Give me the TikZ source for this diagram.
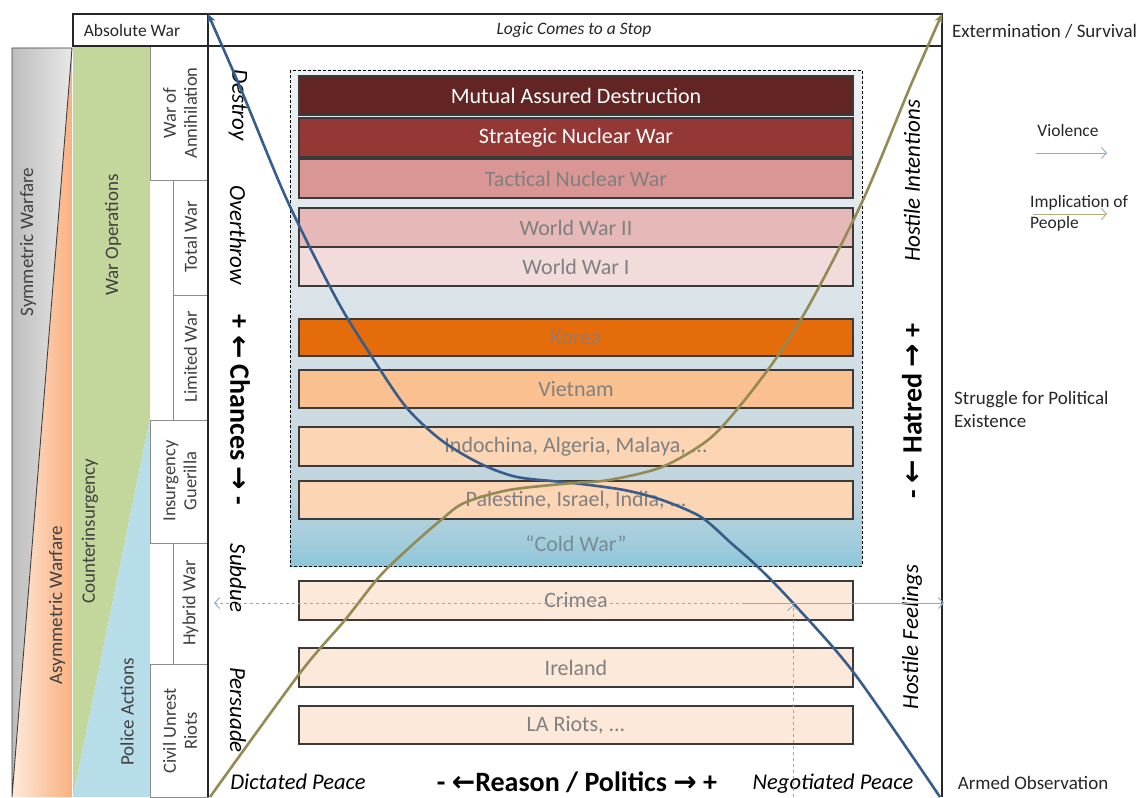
\documentclass[tikz,border=0pt]{standalone}
\usepackage{fontspec}
\setmainfont{Carlito}
\newfontfamily\arrowfont{DejaVu Sans}
\usetikzlibrary{arrows.meta}
\definecolor{cMAD}{HTML}{632523}
\definecolor{cStrat}{HTML}{953735}
\definecolor{cTact}{HTML}{D99694}
\definecolor{cWWII}{HTML}{E6B9B8}
\definecolor{cWWI}{HTML}{F2DCDB}
\definecolor{cKorea}{HTML}{E46C0A}
\definecolor{cViet}{HTML}{FAC090}
\definecolor{cMid}{HTML}{FCD5B5}
\definecolor{cLow}{HTML}{FDE9D9}
\definecolor{boxline}{HTML}{3A3A3A}
\definecolor{boxtext}{HTML}{808080}
\definecolor{txtdark}{HTML}{262626}
\definecolor{txtgray}{HTML}{404040}
\definecolor{cellline}{HTML}{8C8C8C}
\definecolor{bandgreen}{HTML}{C3D69B}
\definecolor{bandblue}{HTML}{B7DDE8}
\definecolor{orangeL}{HTML}{FDEADA}
\definecolor{orangeR}{HTML}{F9B080}
\definecolor{grayL}{HTML}{BDBDBD}
\definecolor{grayR}{HTML}{E8E8E8}
\definecolor{contA}{HTML}{8EC6DA}
\definecolor{contB}{HTML}{A6CDDC}
\definecolor{contC}{HTML}{BDD3DD}
\definecolor{contD}{HTML}{C9D8E0}
\definecolor{contE}{HTML}{D6E1E7}
\definecolor{contF}{HTML}{DFE6EA}
\definecolor{contG}{HTML}{EEF1F3}
\definecolor{violence}{HTML}{385D8A}
\definecolor{people}{HTML}{948A54}
\definecolor{violenceL}{HTML}{8EAACB}
\definecolor{peopleL}{HTML}{B3AB7D}
\pgfdeclareverticalshading{contshade}{100bp}{color(0bp)=(contA); color(25bp)=(contA); color(28bp)=(contB); color(32bp)=(contC); color(38bp)=(contD); color(48bp)=(contE); color(56bp)=(contF); color(75bp)=(contG); color(100bp)=(contG)}
\begin{document}
\begin{tikzpicture}[x=1pt,y=-1pt,
  warbox/.style={draw=boxline, line width=1.1pt, minimum width=554pt, minimum height=39pt, inner sep=0pt, text=boxtext, font=\fontsize{22}{26}\selectfont},
  collbl/.style={inner sep=0pt, text=txtgray, font=\fontsize{19}{22}\selectfont, align=center},
  celllbl/.style={inner sep=0pt, text=txtgray, font=\fontsize{18.5}{21}\selectfont, align=center, rotate=90},
  verb/.style={inner sep=0pt, text=black, font=\fontsize{23}{27}\selectfont\itshape, rotate=-90},
  side/.style={inner sep=0pt, text=black, font=\fontsize{23}{27}\selectfont\itshape, rotate=90},
  scalelbl/.style={inner sep=0pt, text=black, font=\fontsize{28}{32}\selectfont\bfseries},
  outlbl/.style={inner sep=0pt, text=txtdark, font=\fontsize{19}{23}\selectfont, align=left},
  legendlbl/.style={inner sep=0pt, text=txtdark, font=\fontsize{17.5}{21}\selectfont, align=left},
  framelines/.style={draw=txtdark, line width=1.1pt},
  cellbox/.style={draw=cellline, line width=0.8pt},
  curveline/.style={line width=2.6pt, -{Stealth[length=9pt,width=8pt]}},
  thinarrow/.style={line width=0.9pt, -{Straight Barb[length=5pt,width=11pt]}}
]
\useasboundingbox (0,0) rectangle (1139,797);

% ---- left bands ----
\begin{scope}
\clip (12,48) -- (72,48) -- (12,797) -- cycle;
\shade[left color=grayL, right color=grayR] (12,48) rectangle (72,797);
\end{scope}
\begin{scope}
\clip (72,48) -- (72,797) -- (12,797) -- cycle;
\shade[left color=orangeL, right color=orangeR] (12,48) rectangle (72,797);
\end{scope}
\draw[draw=txtgray, line width=0.9pt] (12,797) -- (12,48) -- (72,48) -- (12,797);
\fill[bandgreen] (73,46) -- (150,46) -- (150,418) -- (73,797) -- cycle;
\fill[bandblue] (150,418) -- (150,797) -- (73,797) -- cycle;

\node[collbl, rotate=90] (sym) at (28,242) {Symmetric Warfare};
\node[collbl, rotate=90] (asym) at (57,605) {Asymmetric Warfare};
\node[collbl, rotate=90] (warops) at (113,235) {War Operations};
\node[collbl, rotate=90] (coin) at (90,531) {Counterinsurgency};
\node[collbl, rotate=90] (police) at (127,712) {Police Actions};

% ---- cells ----
\fill[white] (150,46) rectangle (208,797);
\draw[cellbox] (150,46) rectangle (208,180);
\draw[cellbox] (173,180) rectangle (208,295);
\draw[cellbox] (173,295) rectangle (208,420);
\draw[cellbox] (150,420) rectangle (208,543);
\draw[cellbox] (173,543) rectangle (208,664);
\draw[cellbox] (150,664) rectangle (208,797);
\node[celllbl] (annih) at (180,113) {War of\\Annihilation};
\node[celllbl] (total) at (190.5,237) {Total War};
\node[celllbl] (limited) at (190.5,357) {Limited War};
\node[celllbl] (insurg) at (180,481) {Insurgency\\Guerilla};
\node[celllbl] (hybrid) at (190.5,603) {Hybrid War};
\node[celllbl] (civil) at (180,731) {Civil Unrest\\Riots};

% ---- frame ----
\draw[framelines] (73,14) rectangle (942,46);
\draw[framelines] (208,14) -- (208,797);
\draw[framelines] (942,46) -- (942,797);
\node[inner sep=0pt, text=txtdark, font=\fontsize{17.5}{20}\selectfont] (absw) at (132,30) {Absolute War};
\node[inner sep=0pt, text=txtdark, font=\fontsize{17.5}{20}\selectfont\itshape] (logic) at (574,30) {Logic Comes to a Stop};

% ---- container ----
\shade[shading=contshade] (290,70) rectangle (862,566);
\draw[line width=0.8pt, dash pattern=on 3pt off 2pt] (290,70) rectangle (862,566);

\node[warbox, fill=cMAD, text=white] (mad) at (576,95.5) {Mutual Assured Destruction};
\node[warbox, fill=cStrat, text=white] (strat) at (576,137.5) {Strategic Nuclear War};
\node[warbox, fill=cTact] (tact) at (576,178.5) {Tactical Nuclear War};
\node[warbox, fill=cWWII] (ww2) at (576,227.5) {World War II};
\node[warbox, fill=cWWI] (ww1) at (576,266.5) {World War I};
\node[warbox, fill=cKorea, minimum height=37pt, text={rgb,255:red,160;green,120;blue,95}] (korea) at (576,337.5) {Korea};
\node[warbox, fill=cViet, minimum height=38pt] (viet) at (576,389) {Vietnam};
\node[warbox, fill=cMid] (indo) at (576,446.5) {Indochina, Algeria, Malaya, ...};
\node[warbox, fill=cMid, minimum height=38pt] (pal) at (576,500) {Palestine, Israel, India, ...};
\node[inner sep=0pt, text={rgb,255:red,120;green,140;blue,152}, font=\fontsize{22}{26}\selectfont] (cold) at (576,544) {\char"201C Cold War\char"201D};
\node[warbox, fill=cLow] (crimea) at (576,600.5) {Crimea};
\node[warbox, fill=cLow] (ireland) at (576,667.5) {Ireland};
\node[warbox, fill=cLow, minimum height=38pt] (la) at (576,725) {LA Riots, ...};

% ---- verbs / scales ----
\node[verb] (destroy) at (238,105) {Destroy};
\node[verb] (overthrow) at (238,235) {Overthrow};
\node[verb] (subdue) at (238,578) {Subdue};
\node[verb] (persuade) at (238,710) {Persuade};
\node[scalelbl, rotate=-90] (chances) at (240,410) {+ {\arrowfont\bfseries ←} Chances {\arrowfont\bfseries →} -};
\node[side] (hint) at (912,181) {Hostile Intentions};
\node[scalelbl, rotate=90] (hatred) at (912,411) {- {\arrowfont\bfseries ←} Hatred {\arrowfont\bfseries →} +};
\node[side] (hfeel) at (912,637) {Hostile Feelings};
\node[inner sep=0pt, anchor=base, font=\fontsize{22.5}{26}\selectfont\itshape] (dict) at (298,789) {Dictated Peace};
\node[scalelbl, anchor=base] (reason) at (577,791) {- {\arrowfont\bfseries ←}Reason / Politics {\arrowfont\bfseries →} +};
\node[inner sep=0pt, anchor=base, font=\fontsize{22.5}{26}\selectfont\itshape] (nego) at (833,789) {Negotiated Peace};

% ---- outside labels ----
\node[outlbl] (ext) at (1044.5,31) {Extermination / Survival};
\node[legendlbl] (viol) at (1068,130) {Violence};
\node[legendlbl, anchor=west] (impl) at (1030,213.5) {Implication of\\People};
\node[outlbl, anchor=west] (struggle) at (954,409.5) {Struggle for Political\\Existence};
\node[outlbl, anchor=base] (armed) at (1033,789) {Armed Observation};

\coordinate (violA) at (1036,153);
\coordinate (violB) at (1107,153);
\coordinate (implA) at (1033,214);
\coordinate (implB) at (1107,214);
\draw[thinarrow, violenceL] (violA) -- (violB);
\draw[thinarrow, peopleL] (implA) -- (implB);

% ---- curves ----
\draw[curveline, violence] plot[smooth, tension=0.5] coordinates {(940,797) (854,673) (793,603) (758,567) (731,543) (701,517) (662,500) (624,490) (573,483) (517,477) (479,463) (441,440) (406,407) (372,357) (337,300) (287,200) (240,87) (208,14)};
\draw[curveline, people] plot[smooth, tension=0.5] coordinates {(210,797) (300,673) (345,620) (379,577) (410,547) (441,520) (464,503) (509,490) (573,483) (609,480) (662,467) (708,440) (739,407) (777,357) (812,300) (863,200) (910,87) (942,14)};

% ---- crimea marks ----
\coordinate (cr) at (745,603);
\coordinate (crL) at (214,603);
\coordinate (crR) at (944,603);
\coordinate (vb) at (793,797);
\coordinate (vt) at (793,605);
\draw[thinarrow, violenceL] (cr) -- (crR);
\draw[thinarrow, violenceL, dashed] (cr) -- (crL);
\draw[thinarrow, violenceL, dashed] (vb) -- (vt);
\end{tikzpicture}
\end{document}
